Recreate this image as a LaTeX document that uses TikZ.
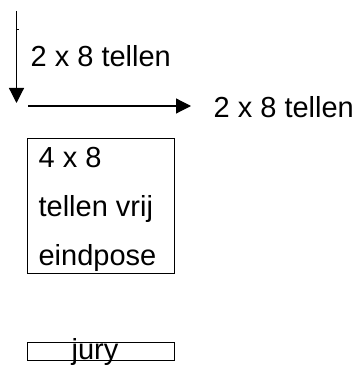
\documentclass[tikz,border=0pt]{standalone}
\usepackage{fontspec}
\setmainfont{Liberation Sans}
\usetikzlibrary{arrows.meta, positioning}

\begin{document}
\begin{tikzpicture}[x=1pt, y=-1pt, line width=1.2pt,
        pijl/.style={-{Triangle[length=15pt, width=15pt]}},
        tekst/.style={anchor=base west, inner sep=0pt, font=\fontsize{29}{49}\selectfont},
        vak/.style={draw, inner sep=0pt, anchor=north west}]
    \useasboundingbox (0,0) rectangle (355,371);

                    % Pijlen
                    \coordinate (boven) at (16.5,11);
                    \coordinate (onder) at (16.5,103);
                    \coordinate (start) at (28,106);
                    \coordinate (eind) at (191,106);
                    \draw[pijl] (boven) -- (onder);
                    \draw[pijl] (start) -- (eind);
                    \draw[line width=1pt] (16.5,30) -- (19,30);

                    % Teksten bij de pijlen
                    \node[tekst] (links) at (30,67) {2 x 8 tellen};
                    \node[tekst] (rechts) at (213,118) {2 x 8 tellen};

                    % Vakken (de basislijn van een blok ligt op de laatste regel)
                    \node[vak, minimum width=147pt, minimum height=135pt] (telvak) at (27,138) {};
                    \node[tekst, align=left] (vrij) at (38,265) {4 x 8\\tellen vrij\\eindpose};
                    \node[vak, minimum width=147pt, minimum height=18pt] (juryvak) at (27,342) {};
                    \node[tekst, anchor=base] (jury) at (95,359) {jury};

\end{tikzpicture}
\end{document}
